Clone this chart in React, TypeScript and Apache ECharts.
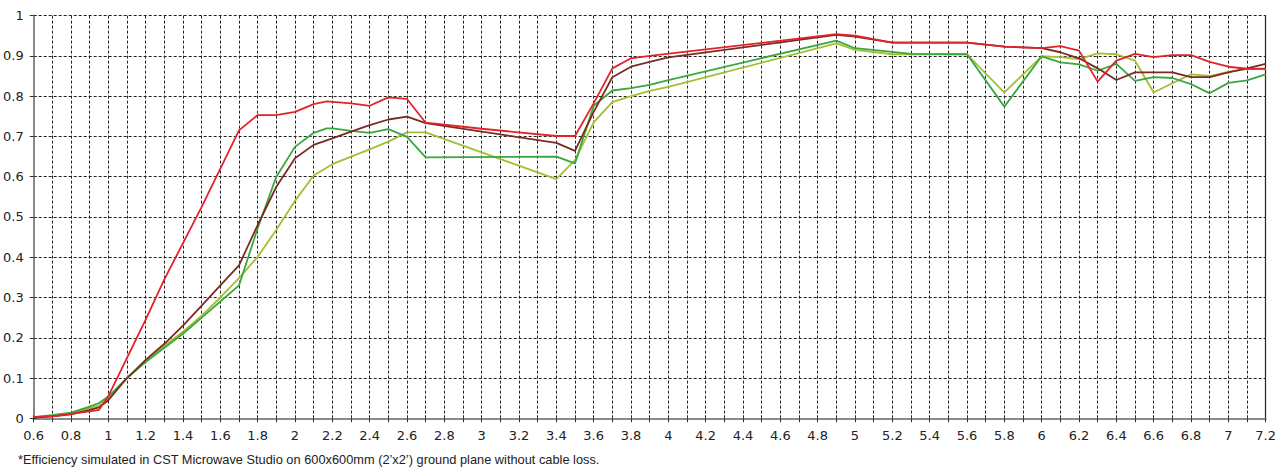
import React, { useEffect, useRef } from "react";
import * as echarts from "echarts";

const xTickLabels = ["0.6","0.8","1","1.2","1.4","1.6","1.8","2","2.2","2.4","2.6","2.8","3","3.2","3.4","3.6","3.8","4","4.2","4.4","4.6","4.8","5","5.2","5.4","5.6","5.8","6","6.2","6.4","6.6","6.8","7","7.2"];
const yTickLabels = ["0","0.1","0.2","0.3","0.4","0.5","0.6","0.7","0.8","0.9","1"];

const redFreq = [0.6,0.7,0.8,0.9,0.95,1.0,1.1,1.2,1.3,1.4,1.5,1.6,1.7,1.8,1.9,2.0,2.1,2.17,2.3,2.4,2.5,2.6,2.7,3.0,3.4,3.5,3.6,3.7,3.8,3.9,4.9,5.0,5.2,5.6,5.8,6.0,6.1,6.2,6.3,6.4,6.5,6.6,6.7,6.8,6.9,7.0,7.1,7.2];
const redEff = [0.003,0.005,0.011,0.017,0.021,0.055,0.15,0.245,0.345,0.435,0.525,0.62,0.715,0.753,0.753,0.761,0.78,0.787,0.782,0.776,0.797,0.793,0.734,0.719,0.701,0.701,0.782,0.869,0.894,0.9,0.954,0.95,0.933,0.933,0.923,0.919,0.924,0.913,0.836,0.888,0.905,0.897,0.902,0.902,0.885,0.873,0.868,0.868];

const brownFreq = [0.6,0.7,0.8,0.9,0.95,1.0,1.1,1.2,1.3,1.4,1.5,1.6,1.7,1.8,1.9,2.0,2.1,2.2,2.3,2.4,2.5,2.6,2.7,3.4,3.5,3.6,3.7,3.8,3.9,4.0,4.9,5.0,5.2,5.6,5.8,6.0,6.1,6.2,6.3,6.4,6.5,6.6,6.7,6.8,6.9,7.0,7.1,7.2];
const brownEff = [0.002,0.005,0.01,0.021,0.027,0.045,0.1,0.145,0.185,0.23,0.28,0.33,0.38,0.48,0.575,0.646,0.679,0.695,0.712,0.728,0.742,0.749,0.733,0.684,0.664,0.761,0.847,0.873,0.885,0.896,0.952,0.948,0.933,0.933,0.923,0.919,0.909,0.894,0.869,0.84,0.859,0.859,0.859,0.847,0.847,0.859,0.869,0.88];

const greenFreq = [0.6,0.7,0.8,0.9,0.95,1.0,1.1,1.2,1.3,1.4,1.5,1.6,1.7,1.8,1.9,2.0,2.1,2.17,2.2,2.3,2.4,2.5,2.6,2.7,3.4,3.5,3.6,3.7,3.8,3.9,4.0,4.9,5.0,5.2,5.3,5.6,5.8,6.0,6.1,6.2,6.3,6.4,6.5,6.6,6.7,6.8,6.9,7.0,7.1,7.2];
const greenEff = [0.003,0.008,0.014,0.029,0.038,0.054,0.1,0.14,0.175,0.21,0.25,0.29,0.33,0.472,0.6,0.674,0.709,0.72,0.72,0.714,0.709,0.718,0.699,0.648,0.65,0.633,0.776,0.814,0.82,0.828,0.84,0.938,0.919,0.91,0.905,0.904,0.774,0.899,0.884,0.879,0.863,0.88,0.838,0.847,0.845,0.83,0.807,0.833,0.839,0.854];

const limeFreq = [0.6,0.7,0.8,0.9,0.95,1.0,1.1,1.2,1.3,1.4,1.5,1.6,1.7,1.8,1.9,2.0,2.1,2.2,2.3,2.4,2.5,2.6,2.7,3.4,3.5,3.6,3.7,3.8,3.9,4.0,4.9,5.0,5.2,5.6,5.8,6.0,6.1,6.2,6.3,6.4,6.5,6.6,6.7,6.8,6.9,7.0,7.1,7.2];
const limeEff = [0.003,0.007,0.012,0.025,0.032,0.05,0.1,0.14,0.18,0.215,0.255,0.3,0.348,0.401,0.468,0.54,0.603,0.631,0.65,0.668,0.687,0.71,0.71,0.594,0.641,0.735,0.785,0.8,0.813,0.823,0.931,0.915,0.904,0.904,0.809,0.899,0.897,0.892,0.906,0.904,0.888,0.809,0.832,0.854,0.85,0.86,0.867,0.867];

const footnote = "*Efficiency simulated in CST Microwave Studio on 600x600mm (2\u2019x2\u2019) ground plane without cable loss.";

const pairs = (xs: number[], ys: number[]) => xs.map((x, i) => [x, ys[i]]);

const labelFont = "'DejaVu Sans', 'Verdana', sans-serif";

export default function App() {
  const ref = useRef<HTMLDivElement>(null);
  useEffect(() => {
    if (!ref.current) return;
    const chart = echarts.init(ref.current, null, { renderer: "svg" });
    const fmtX = (v: number) => {
      const k = Math.round(v * 10);
      if (k % 2 !== 0) return "";
      const s = String(k / 10);
      return xTickLabels.includes(s) ? s : "";
    };
    const fmtY = (v: number) => {
      const s = String(Math.round(v * 10) / 10);
      return yTickLabels.includes(s) ? s : "";
    };
    const mk = (name: string, xs: number[], ys: number[], color: string) => ({
      name,
      type: "line",
      data: pairs(xs, ys),
      showSymbol: false,
      symbol: "none",
      lineStyle: { color, width: 1.8 },
      itemStyle: { color },
      xAxisIndex: 0,
      yAxisIndex: 0,
    });
    chart.setOption({
      animation: false,
      backgroundColor: "#ffffff",
      grid: { left: 29, right: 11, top: 15.6, bottom: 50.7, containLabel: false },
      xAxis: [
        {
          type: "value", min: 0.6, max: 7.2, interval: 0.1, position: "bottom",
          axisLine: { show: true, lineStyle: { color: "#333", width: 1.2 } },
          axisTick: { show: true, length: 4, lineStyle: { color: "#333" } },
          axisLabel: { formatter: fmtX, color: "#222", fontSize: 13, fontFamily: labelFont, margin: 11, showMinLabel: true, showMaxLabel: true },
          splitLine: { show: true, lineStyle: { color: "#222", type: [3, 2], width: 1 } },
        },
        {
          type: "value", min: 0.6, max: 7.2, interval: 0.1, position: "bottom",
          axisLine: { show: false },
          axisTick: { show: true, inside: true, length: 3, lineStyle: { color: "#333" } },
          axisLabel: { show: false },
          splitLine: { show: false },
        },
        {
          type: "value", min: 0.6, max: 7.2, interval: 0.1, position: "top",
          axisLine: { show: true, lineStyle: { color: "#8a8a8a", width: 2 } },
          axisTick: { show: false },
          axisLabel: { show: false },
          splitLine: { show: false },
        },
      ],
      yAxis: [
        {
          type: "value", min: 0, max: 1, interval: 0.1, position: "left",
          axisLine: { show: true, lineStyle: { color: "#8a8a8a", width: 2 } },
          axisTick: { show: true, length: 4, lineStyle: { color: "#333" } },
          axisLabel: { formatter: fmtY, color: "#222", fontSize: 13, fontFamily: labelFont, margin: 10 },
          splitLine: { show: true, lineStyle: { color: "#222", type: [3, 2], width: 1 } },
        },
        {
          type: "value", min: 0, max: 1, interval: 0.1, position: "left",
          axisLine: { show: false },
          axisTick: { show: true, inside: true, length: 3, lineStyle: { color: "#333" } },
          axisLabel: { show: false },
          splitLine: { show: false },
        },
        {
          type: "value", min: 0, max: 1, interval: 0.1, position: "right",
          axisLine: { show: true, lineStyle: { color: "#222", width: 1.2 } },
          axisTick: { show: false },
          axisLabel: { show: false },
          splitLine: { show: false },
        },
      ],
      series: [
        mk("Lime", limeFreq, limeEff, "#a4bf32"),
        mk("Green", greenFreq, greenEff, "#38a83e"),
        mk("Brown", brownFreq, brownEff, "#7a2b22"),
        mk("Red", redFreq, redEff, "#e3222a"),
      ],
      graphic: [
        {
          type: "text",
          left: 18,
          top: 453,
          style: { text: footnote, fill: "#222", font: "12.8px 'Liberation Sans', Arial, sans-serif" },
        },
      ],
    });
    return () => chart.dispose();
  }, []);
  return (
    <div
      ref={ref}
      style={{ position: "fixed", left: 0, top: 0, width: 1279, height: 469, background: "#fff" }}
    />
  );
}
